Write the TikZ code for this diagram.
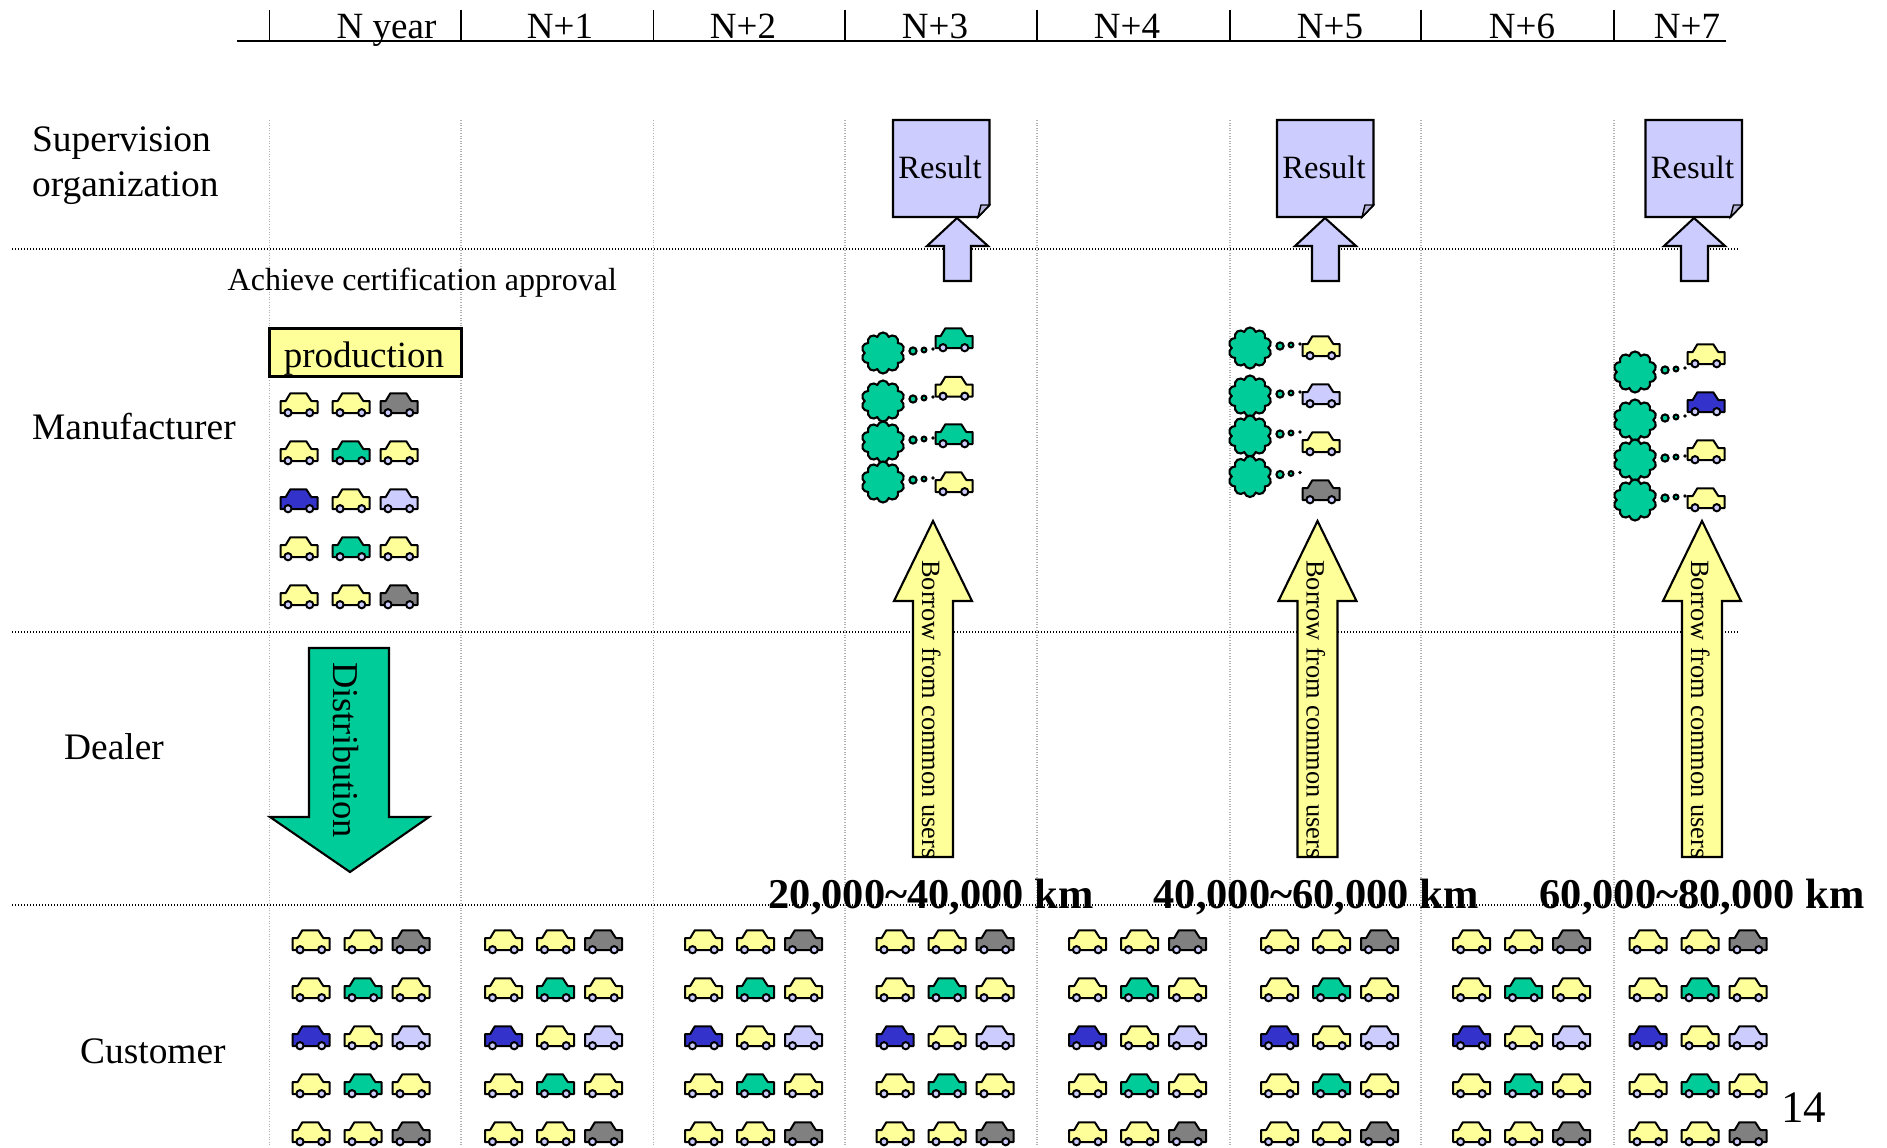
\documentclass[tikz,border=0pt]{standalone}
\usepackage{fontspec}
\setmainfont{Liberation Serif}
\usetikzlibrary{shapes.symbols}

\definecolor{caryellow}{HTML}{FFFF99}
\definecolor{cargreen}{HTML}{00CC99}
\definecolor{carlav}{HTML}{CCCCFF}
\definecolor{carblue}{HTML}{3333CC}
\definecolor{cargray}{HTML}{808080}

\tikzset{
    shape line/.style={draw=black, line width=2.1pt, line join=miter},
    row label/.style={anchor=base west, inner sep=0pt, font=\fontsize{37.4}{42}\selectfont},
    year label/.style={anchor=base, inner sep=0pt, font=\fontsize{37}{42}\selectfont},
    km label/.style={anchor=base, inner sep=0pt, font=\fontsize{42.4}{48}\selectfont\bfseries},
    borrow label/.style={rotate=-90, anchor=base west, inner sep=0pt, font=\fontsize{26.4}{30}\selectfont},
    smoke/.style={cloud, cloud puffs=10, cloud puff arc=150, aspect=1, shape line, fill=cargreen,
        minimum width=43pt, minimum height=41pt, inner sep=0pt},
    pics/car/.style={code={
        \draw[shape line, line width=2pt, fill=#1, line join=round] (-18.5,8) -- (-18.5,-4) -- (-13.3,-4) -- (-8.7,-11.7)
            -- (7.3,-11.7) -- (12.3,-4) -- (18.5,-4) -- (18.5,8) -- cycle;
        \draw[shape line, line width=2pt, fill=carlav] (-11,7.7) circle (3.6pt);
        \draw[shape line, line width=2pt, fill=carlav] (10.7,7.7) circle (3.6pt);
    }}
}

\begin{document}
\begin{tikzpicture}[x=1pt, y=-1pt]
    \useasboundingbox (0,0) rectangle (1887,1148);

    % time axis
    \draw[line width=1.2pt] (237,41) -- (1726,41);
    \foreach \gx in {269.5,461,653.5,845,1037,1230,1421,1614} {
        \draw[line width=1.2pt] (\gx,10) -- (\gx,41);
        \draw[gray!60, line width=1.2pt, dash pattern=on 1pt off 1.6pt] (\gx,120) -- (\gx,1146);
    }
    \foreach \sy in {249,632,905}
        \draw[line width=1.3pt, dash pattern=on 1.4pt off 1.6pt] (12,\sy) -- (1739,\sy);

    \node[year label] (y0) at (386.5,39) {N year};
    \node[year label] (y1) at (560,39) {N+1};
    \node[year label] (y2) at (743,39) {N+2};
    \node[year label] (y3) at (935,39) {N+3};
    \node[year label] (y4) at (1127,39) {N+4};
    \node[year label] (y5) at (1330,39) {N+5};
    \node[year label] (y6) at (1522,39) {N+6};
    \node[year label] (y7) at (1687,39) {N+7};

    \node[row label] (sup) at (32,151) {Supervision};
    \node[row label] (org) at (32,196) {organization};
    \node[row label] (man) at (32,439) {Manufacturer};
    \node[row label] (dea) at (64,759) {Dealer};
    \node[row label] (cus) at (80,1063) {Customer};
    \node[row label, font=\fontsize{32}{38}\selectfont] (ach) at (227.5,290) {Achieve certification approval};
    \node[row label, font=\fontsize{45}{50}\selectfont] (num) at (1781,1122) {14};

    % production and distribution
    \node[shape line, fill=caryellow, minimum width=192pt, minimum height=48pt, inner sep=0pt] (prod) at (365.5,352.5) {};
    \node[inner sep=0pt, anchor=base, font=\fontsize{37}{42}\selectfont] (prodtxt) at (364,367) {production};
    \draw[shape line, fill=cargreen] (309,648) -- (389,648) -- (389,817) -- (429,817) -- (350,872)
        -- (270,817) -- (309,817) -- cycle;
    \node[borrow label, font=\fontsize{36.4}{42}\selectfont] (dist) at (333,662) {Distribution};

    % result sheets, arrows to them and the arrows from the users
    \foreach \rx/\ax/\ux/\tag in {893/957/933/a,1277/1325/1317.5/b,1645.5/1694/1702/c} {
        \begin{scope}[shift={(\rx,0)}]
            \draw[shape line, fill=carlav] (0,120) -- (96.5,120) -- (96.5,205) -- (85,217) -- (0,217) -- cycle;
            \draw[shape line, line width=1.4pt, fill=carlav!70!gray] (85,217) -- (88,205) -- (96.5,205) -- cycle;
            \node[inner sep=0pt, anchor=base, font=\fontsize{32.5}{36}\selectfont] (res\tag) at (47,178) {Result};
        \end{scope}
        \begin{scope}[shift={(\ax,0)}]
            \draw[shape line, fill=carlav] (0,218) -- (31,246) -- (14,246) -- (14,281) -- (-13,281) -- (-13,246)
                -- (-30,246) -- cycle;
        \end{scope}
        \begin{scope}[shift={(\ux,0)}]
            \draw[shape line, fill=caryellow] (0,521) -- (39,601) -- (20,601) -- (20,857) -- (-20,857) -- (-20,601)
                -- (-39,601) -- cycle;
            \node[borrow label] (bor\tag) at (-11,560) {Borrow from common users};
        \end{scope}
    }

    \node[km label] (kma) at (931,908) {20,000\char`\~40,000 km};
    \node[km label] (kmb) at (1316,908) {40,000\char`\~60,000 km};
    \node[km label] (kmc) at (1702,908) {60,000\char`\~80,000 km};

    % test vehicles with their exhaust clouds
    \foreach \sx/\sy/\cy/\colr/\nm in {
        883/353/340/cargreen/a1, 883/401/388.5/caryellow/a2, 883/442/436/cargreen/a3, 883/482/484/caryellow/a4,
        1250/348/348/caryellow/b1, 1250/396/396/carlav/b2, 1250/436/444/caryellow/b3, 1250/476.5/492/cargray/b4,
        1635/372/356/caryellow/c1, 1635/420/404/carblue/c2, 1635/460/452/caryellow/c3, 1635/500/500/caryellow/c4} {
        \node[smoke] (cloud\nm) at (\sx,\sy) {};
        \draw[shape line, fill=cargreen] (\sx+30,\sy-2) circle (3.6pt);
        \draw[shape line, fill=cargreen] (\sx+41,\sy-3) circle (2.4pt);
        \fill (\sx+50,\sy-4) circle (1.8pt);
        \pic at (\sx+71,\cy) {car=\colr};
    }

    % fleet at the manufacturer
    \foreach \ry/\ca/\cb/\cc in {
        405/caryellow/caryellow/cargray, 453/caryellow/cargreen/caryellow, 501/carblue/caryellow/carlav,
        549/caryellow/cargreen/caryellow, 597/caryellow/caryellow/cargray} {
        \pic at (299,\ry) {car=\ca};
        \pic at (351,\ry) {car=\cb};
        \pic at (399,\ry) {car=\cc};
    }

    % fleet at the customers
    \foreach \fx in {311,503.5,703.5,895,1087.5,1279.5,1471.5,1648}
        \foreach \ry/\ca/\cb/\cc in {
            942/caryellow/caryellow/cargray, 990/caryellow/cargreen/caryellow, 1038/carblue/caryellow/carlav,
            1086/caryellow/cargreen/caryellow, 1134/caryellow/caryellow/cargray} {
            \pic at (\fx,\ry) {car=\ca};
            \pic at (\fx+52,\ry) {car=\cb};
            \pic at (\fx+100,\ry) {car=\cc};
        }
\end{tikzpicture}
\end{document}
